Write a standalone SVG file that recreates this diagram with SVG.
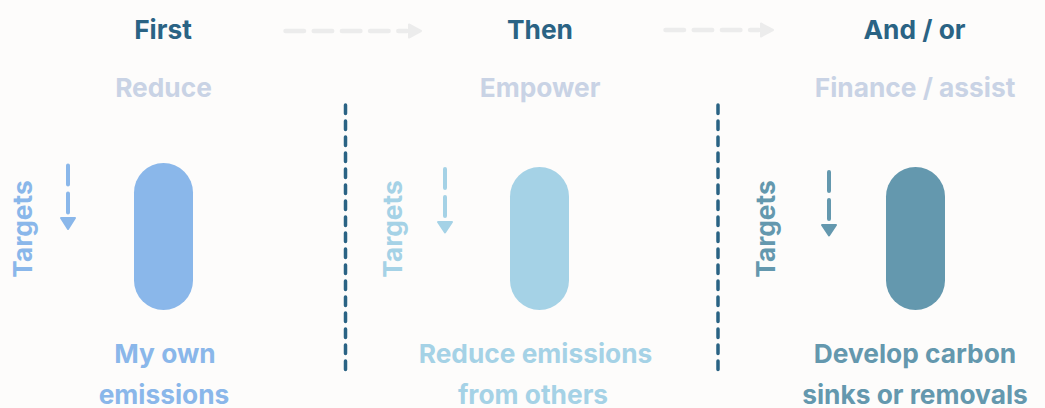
<svg xmlns="http://www.w3.org/2000/svg" width="1045" height="408" viewBox="0 0 1045 408">
  <style>
    text { font-family: Inter, "Noto Sans", "Liberation Sans", sans-serif; font-weight: 700; font-size: 26.3px; text-anchor: middle; }
    .step { fill: #2a6384; }
    .action { fill: #c9d3e5; }
    .c1 { fill: #8ab7ea; }
    .c2 { fill: #a5d2e6; }
    .c3 { fill: #6498ae; }
    .flow { fill: none; stroke: #ececec; stroke-width: 4.5; stroke-linecap: round; stroke-dasharray: 18.5 9.7; }
    .flow-head { fill: #ececec; stroke: #ececec; stroke-width: 2; stroke-linejoin: round; }
    .divider { fill: none; stroke: #2a6384; stroke-width: 3.5; stroke-linecap: round; stroke-dasharray: 8.5 7.5; }
    .down { fill: none; stroke-width: 4; stroke-linecap: round; stroke-dasharray: 19 9; }
    .down-head { stroke-width: 2; stroke-linejoin: round; }
  </style>

  <rect x="0" y="0" width="1045" height="408" fill="#fdfcfb"/>

  <!-- column 1: reduce own emissions -->
  <g id="col-first">
    <text class="step" x="163" y="38.5">First</text>
    <text class="action" x="163.5" y="97">Reduce</text>
    <rect class="c1" x="134" y="163" width="59" height="147" rx="29.5"/>
    <text class="c1" transform="translate(32 229) rotate(-90)" x="0" y="0">Targets</text>
    <text class="c1" x="165" y="363">My own</text>
    <text class="c1" x="164" y="403.5">emissions</text>
  </g>

  <!-- column 2: empower others -->
  <g id="col-then">
    <text class="step" x="540" y="38.5">Then</text>
    <text class="action" x="540" y="97">Empower</text>
    <rect class="c2" x="510" y="167" width="59" height="143" rx="29.5"/>
    <text class="c2" transform="translate(402 229) rotate(-90)" x="0" y="0">Targets</text>
    <text class="c2" x="535.5" y="363">Reduce emissions</text>
    <text class="c2" x="533" y="403.5">from others</text>
  </g>

  <!-- column 3: finance or assist removals -->
  <g id="col-andor">
    <text class="step" x="914.5" y="38.5">And / or</text>
    <text class="action" x="915" y="97">Finance / assist</text>
    <rect class="c3" x="886" y="167" width="59" height="143" rx="29.5"/>
    <text class="c3" transform="translate(775 229) rotate(-90)" x="0" y="0">Targets</text>
    <text class="c3" x="915" y="363">Develop carbon</text>
    <text class="c3" x="915" y="403.5">sinks or removals</text>
  </g>

  <!-- connectors -->
  <g id="connectors">
    <!-- step-to-step flow arrows -->
    <path class="flow" d="M285.5 31 H407"/>
    <path class="flow-head" d="M409 24.5 L421 31 L409 37.5 Z"/>
    <path class="flow" d="M665.5 30 H759"/>
    <path class="flow-head" d="M761 23.5 L773 30 L761 36.5 Z"/>

    <!-- column dividers -->
    <path class="divider" d="M345.5 105 V370"/>
    <path class="divider" d="M718 105 V370"/>

    <!-- target arrows -->
    <path class="down" stroke="#8ab7ea" d="M68 165.5 V214"/>
    <path class="down-head" fill="#8ab7ea" stroke="#8ab7ea" d="M61 218 H75 L68 229 Z"/>
    <path class="down" stroke="#a5d2e6" d="M445 169 V218"/>
    <path class="down-head" fill="#a5d2e6" stroke="#a5d2e6" d="M438 222 H452 L445 232.5 Z"/>
    <path class="down" stroke="#6498ae" d="M829 172 V221"/>
    <path class="down-head" fill="#6498ae" stroke="#6498ae" d="M822 225 H836 L829 235.5 Z"/>
  </g>
</svg>
